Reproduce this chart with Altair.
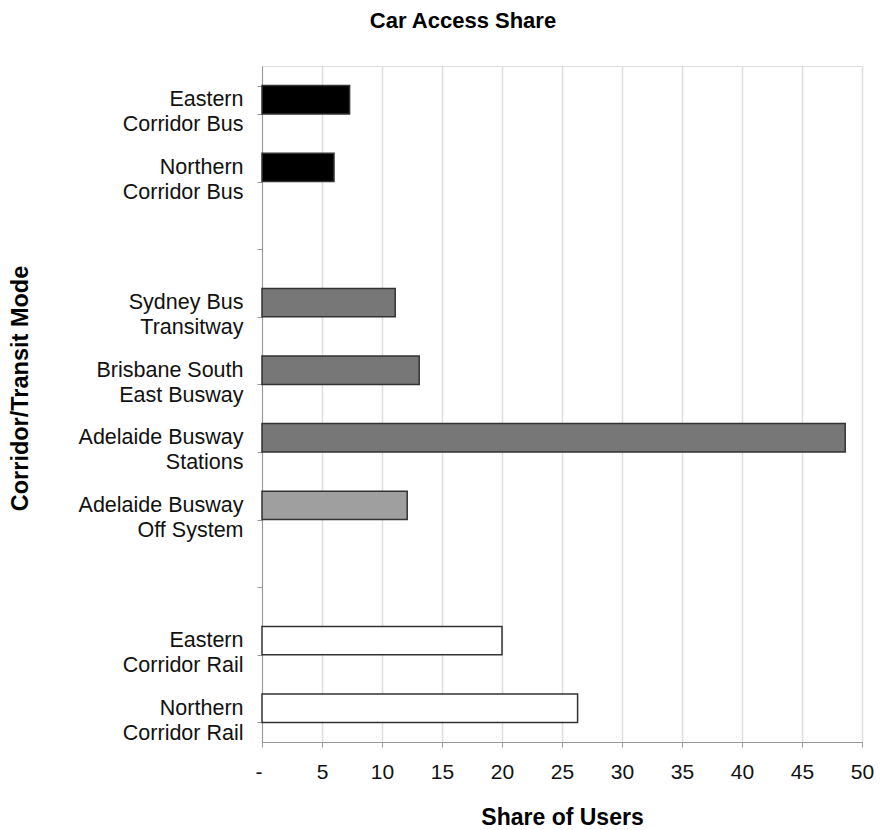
import altair as alt
import pandas as pd

corridors = [
    "Eastern\nCorridor Bus",
    "Northern\nCorridor Bus",
    "Sydney Bus\nTransitway",
    "Brisbane South\nEast Busway",
    "Adelaide Busway\nStations",
    "Adelaide Busway\nOff System ",
    "Eastern\nCorridor Rail",
    "Northern\nCorridor Rail",
]
shares = [7.3, 6.0, 11.1, 13.1, 48.6, 12.1, 20.0, 26.3]
groups = ["Local bus", "Local bus", "Busway", "Busway", "Busway",
          "Busway off system", "Rail", "Rail"]

# order of the category axis, with two empty slots
slot_order = [
    corridors[0], corridors[1], " ",
    corridors[2], corridors[3], corridors[4], corridors[5], "  ",
    corridors[6], corridors[7],
]
x_ticks = [0, 5, 10, 15, 20, 25, 30, 35, 40, 45, 50]

df = pd.DataFrame({"corridor": corridors, "share": shares, "group": groups})

FONT = "Liberation Sans"

chart = (
    alt.Chart(df)
    .mark_bar(stroke="#333333", strokeWidth=1.5)
    .encode(
        y=alt.Y(
            "corridor:N",
            scale=alt.Scale(domain=slot_order, paddingInner=0.58, paddingOuter=0.29),
            sort=slot_order,
            axis=alt.Axis(
                title="Corridor/Transit Mode",
                labelExpr="split(datum.label, '\\n')",
                labelFont=FONT,
                labelFontSize=21.5,
                labelColor="#111111",
                labelLineHeight=25,
                labelPadding=14,
                labelLimit=300,
                tickBand="extent",
                tickSize=5,
                tickColor="#999999",
                domainColor="#999999",
                titleFont=FONT,
                titleFontSize=23.5,
                titleFontWeight="bold",
                titleColor="#000000",
                titleX=-242,
                titleY=322,
                titleAlign="center",
                titleBaseline="middle",
                grid=False,
            ),
        ),
        x=alt.X(
            "share:Q",
            scale=alt.Scale(domain=[0, 50], nice=False),
            axis=alt.Axis(
                title="Share of Users",
                values=x_ticks,
                labelExpr="datum.value == 0 ? '-' : datum.label",
                labelAlign={"condition": {"test": "datum.value == 0", "value": "right"},
                            "value": "center"},
                labelFont=FONT,
                labelFontSize=21,
                labelColor="#111111",
                labelPadding=14,
                tickSize=5,
                tickColor="#999999",
                domainColor="#999999",
                grid=True,
                gridColor="#dddddd",
                gridWidth=1.5,
                titleFont=FONT,
                titleFontSize=23,
                titleFontWeight="bold",
                titleColor="#000000",
                titlePadding=24,
            ),
        ),
        color=alt.Color(
            "group:N",
            scale=alt.Scale(
                domain=["Local bus", "Busway", "Busway off system", "Rail"],
                range=["#000000", "#777777", "#9f9f9f", "#ffffff"],
            ),
            legend=None,
        ),
    )
    .properties(
        width=600,
        height=676,
        title=alt.TitleParams(
            "Car Access Share",
            font=FONT,
            fontSize=22,
            fontWeight="bold",
            color="#000000",
            anchor="middle",
            dx=-99,
            offset=22,
        ),
        autosize=alt.AutoSizeParams(type="none"),
        padding={"left": 254, "top": 58, "right": 14, "bottom": 88},
    )
    .configure_view(stroke="#999999", strokeWidth=1.5)
    .configure(background="#ffffff")
)

chart.save("out.html", embed_options={"renderer": "svg", "actions": False})
